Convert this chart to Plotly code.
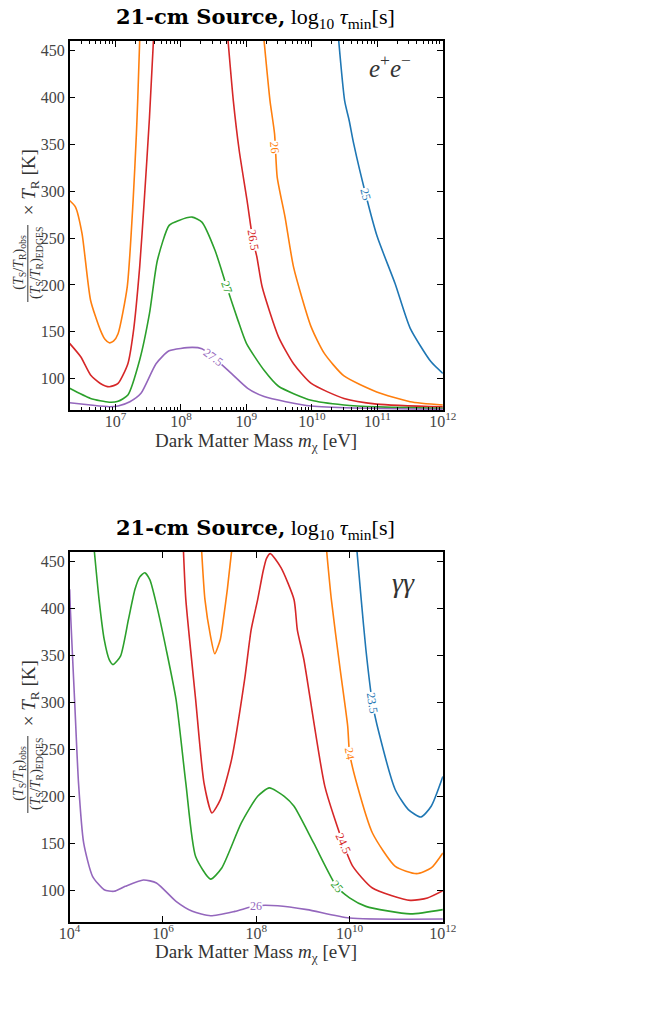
import numpy as np
import plotly.graph_objects as go

# ---------------- data (log10 of mass in eV, temperature in K) ----------------
# e+e- panel
ee_logm_25 = [10.41, 10.50, 10.57, 10.64, 10.82, 11.0, 11.27, 11.50, 11.82, 12.0]
ee_T_25 = [460, 396.5, 375, 350, 297, 251, 201.5, 154, 118, 105.7]

ee_logm_26a = [6.30, 6.39, 6.49, 6.62, 6.77, 6.84, 6.905, 6.97, 7.04, 7.18, 7.27, 7.32, 7.34, 7.37]
ee_T_26a = [290, 283, 254.7, 183.7, 151.8, 142, 138.3, 140, 148, 198, 290, 361, 396.5, 460]
ee_logm_26b = [9.27, 9.36, 9.43, 9.47, 9.59, 9.72, 9.99, 10.19, 10.49, 10.99, 11.50, 12.0]
ee_T_26b = [460, 396.5, 361, 315, 272.3, 219, 155, 127, 103, 86, 75.5, 72]

ee_logm_265a = [6.30, 6.47, 6.62, 6.77, 6.905, 7.04, 7.19, 7.27, 7.37, 7.44, 7.52, 7.58]
ee_T_265a = [137.7, 123.4, 104, 95, 91.5, 95, 116, 148, 219, 290, 378.7, 460]
ee_logm_265b = [8.72, 8.80, 8.89, 9.01, 9.10, 9.16, 9.24, 9.49, 9.72, 9.99, 10.49, 10.99, 12.0]
ee_T_265b = [460, 396.5, 343.3, 290, 247.5, 229.8, 198, 144.7, 116, 95, 79, 73, 70]

ee_logm_27 = [6.30, 6.62, 6.905, 7.04, 7.19, 7.37, 7.52, 7.64, 7.82, 7.97, 8.17, 8.32, 8.52,
              8.70, 8.87, 9.00, 9.27, 9.49, 9.99, 10.49, 11.0, 12.0]
ee_T_27 = [89.8, 79, 75, 76, 82.7, 120, 169.6, 226, 263.5, 268.8, 272.3, 267, 237,
           198, 162.5, 137.7, 109, 92, 77, 72, 70, 68.5]

ee_logm_275 = [6.30, 6.62, 6.905, 7.04, 7.22, 7.39, 7.62, 7.82, 8.17, 8.32, 8.49, 8.77,
               9.02, 9.27, 9.99, 12.0]
ee_T_275 = [74.5, 72, 70.2, 71, 75.5, 84.5, 116, 129.8, 133.4, 132, 123.4, 105.7,
            89.8, 81, 71, 67.5]

# gamma-gamma panel
gg_logm_235 = [10.16, 10.25, 10.35, 10.49, 10.63, 10.98, 11.26, 11.53, 11.75, 12.0]
gg_T_235 = [460, 409, 356, 299.4, 267.5, 207, 185.9, 178, 189.4, 221]

gg_logm_24a = [6.83, 6.90, 7.02, 7.11, 7.23, 7.30, 7.38, 7.47]
gg_T_24a = [460, 409, 370, 351.5, 367, 390, 420, 460]
gg_logm_24b = [9.51, 9.61, 9.79, 9.96, 10.0, 10.17, 10.49, 10.98, 11.44, 11.75, 12.0]
gg_T_24b = [460, 409, 338, 274.5, 246, 210.6, 161, 125.5, 117.8, 123.8, 139.8]

gg_logm_245 = [6.44, 6.49, 6.70, 6.88, 7.05, 7.23, 7.47, 7.75, 7.89, 8.03, 8.15, 8.22, 8.30,
               8.53, 8.81, 8.88, 9.02, 9.47, 9.86, 10.07, 10.49, 11.30, 11.67, 12.0]
gg_T_245 = [460, 409, 303, 214, 182.3, 196.5, 239, 324, 377, 409, 440, 453, 458,
            443, 409, 377, 345.4, 210.6, 150.4, 125.5, 102.5, 89.4, 92, 99.7]

gg_logm_25 = [4.53, 4.63, 4.74, 4.85, 4.93, 5.09, 5.26, 5.40, 5.50, 5.61, 5.72, 5.86, 6.07,
              6.28, 6.49, 6.70, 7.02, 7.26, 7.68, 8.03, 8.28, 8.60, 8.81, 9.23, 9.72,
              10.0, 10.35, 11.30, 12.0]
gg_T_25 = [460, 409, 366.7, 345, 340, 349, 388, 420, 433, 437.6, 430, 404, 356,
           303, 214, 136, 112, 123.8, 171.7, 200, 208.9, 200, 189.4, 150.4, 104.3,
           92, 83, 75, 79.5]

gg_logm_26 = [4.0, 4.015, 4.105, 4.19, 4.30, 4.49, 4.74, 4.95, 5.19, 5.58, 5.86, 6.28,
              6.63, 7.02, 7.54, 8.0, 8.46, 9.09, 10.0, 12.0]
gg_T_26 = [420, 398.6, 302.9, 214, 150.4, 115, 100.7, 99, 104.3, 111, 107.9, 88.3,
           77.7, 73, 77.7, 83.7, 83.7, 79.5, 70.6, 69.5]

BLUE, ORANGE, GREEN, RED, PURPLE = "#1f77b4", "#ff7f0e", "#2ca02c", "#d62728", "#9467bd"
FONT = "Liberation Serif"
W, H = 655, 1015
XL, XR = 61, 449  # plot frame, pixels

fig = go.Figure()


def add_curve(logm, T, color, xa, ya):
    fig.add_trace(go.Scatter(x=[10 ** v for v in logm], y=T, mode="lines",
                             line=dict(color=color, width=1.6, shape="spline", smoothing=0.6),
                             xaxis=xa, yaxis=ya, showlegend=False, hoverinfo="skip",
                             cliponaxis=True))


for lm, T, c in [(ee_logm_25, ee_T_25, BLUE), (ee_logm_26a, ee_T_26a, ORANGE),
                 (ee_logm_26b, ee_T_26b, ORANGE), (ee_logm_265a, ee_T_265a, RED),
                 (ee_logm_265b, ee_T_265b, RED), (ee_logm_27, ee_T_27, GREEN),
                 (ee_logm_275, ee_T_275, PURPLE)]:
    add_curve(lm, T, c, "x", "y")

for lm, T, c in [(gg_logm_235, gg_T_235, BLUE), (gg_logm_24a, gg_T_24a, ORANGE),
                 (gg_logm_24b, gg_T_24b, ORANGE), (gg_logm_245, gg_T_245, RED),
                 (gg_logm_25, gg_T_25, GREEN), (gg_logm_26, gg_T_26, PURPLE)]:
    add_curve(lm, T, c, "x2", "y2")

annotations = []


def clabel(text, lx, ty, angle, color, xr, yr):
    annotations.append(dict(text=text, x=lx, y=ty, xref=xr, yref=yr, showarrow=False,
                            xanchor="center", yanchor="middle",
                            textangle=angle, bgcolor="white", borderpad=0,
                            font=dict(family=FONT, size=12, color=color)))


clabel("25", 10.82, 297, 76, BLUE, "x", "y")
clabel("26", 9.43, 347, 85, ORANGE, "x", "y")
clabel("26.5", 9.10, 247.5, 80, RED, "x", "y")
clabel("27", 8.70, 198, 71, GREEN, "x", "y")
clabel("27.5", 8.49, 123.4, 36, PURPLE, "x", "y")

clabel("23.5", 10.49, 299.4, 81, BLUE, "x2", "y2")
clabel("24", 10.0, 246, 80, ORANGE, "x2", "y2")
clabel("24.5", 9.86, 150.4, 65, RED, "x2", "y2")
clabel("25", 9.72, 104.3, 50, GREEN, "x2", "y2")
clabel("26", 8.0, 83.7, 0, PURPLE, "x2", "y2")


def px(x):
    return x / W


def py(y):
    return 1 - y / H


def text_at(text, x, y, size, color="#333", angle=0):
    annotations.append(dict(text=text, x=px(x), y=py(y), xref="paper", yref="paper",
                            showarrow=False, xanchor="center", yanchor="middle",
                            textangle=angle, font=dict(family=FONT, size=size, color=color)))


shapes = []
TITLE = ("<span style=\"font-family:'DejaVu Serif'; font-size:21px\"><b>21-cm Source,</b></span>"
         " log<sub>10</sub> <i>\u03c4</i><sub>min</sub>[s]")
for off, tag, tx, ty, ts in [(0, "<i>e</i><sup>+</sup><i>e</i><sup>\u2212</sup>", 394, 66, 25),
                             (511, "<i>\u03b3\u03b3</i>", 408, 71, 28)]:
    text_at(TITLE, 254, 18 + off, 22, color="black")
    text_at("Dark Matter Mass <i>m</i><sub>\u03c7</sub> [eV]", 255, 442 + off, 19)
    text_at("(<i>T</i><sub>S</sub>/<i>T</i><sub>R</sub>)<sub>obs</sub>", 8, 262 + off, 14, angle=-90)
    text_at("(<i>T</i><sub>S</sub>/<i>T</i><sub>R</sub>)<sub>EDGES</sub>", 26, 263 + off, 14, angle=-90)
    text_at("\u00d7 <i>T</i><sub>R</sub> [K]", 20, 182 + off, 19, angle=-90)
    text_at(tag, tx, ty + off, ts)
    shapes.append(dict(type="line", xref="paper", yref="paper", x0=px(17.5), x1=px(17.5),
                       y0=py(225 + off), y1=py(302 + off), line=dict(color="#333", width=1)))

axis_common = dict(showline=True, linecolor="black", linewidth=1.6, mirror="ticks",
                   ticks="inside", ticklen=6, tickwidth=1.2, tickcolor="black",
                   showgrid=False, zeroline=False,
                   tickfont=dict(family=FONT, size=16, color="#444"))

minor_top = [k * 10.0 ** d for d in range(6, 12) for k in range(2, 10) if k * 10.0 ** d >= 2e6]

fig.update_layout(
    width=W, height=H, margin=dict(l=0, r=0, t=0, b=0),
    plot_bgcolor="white", paper_bgcolor="white", showlegend=False,
    xaxis=dict(type="log", domain=[px(XL), px(XR)], range=[np.log10(2e6), 12], anchor="y",
               tickvals=[10.0 ** d for d in range(7, 13)],
               ticktext=["10<sup>%d</sup>" % d for d in range(7, 13)],
               minor=dict(ticks="inside", ticklen=3, tickwidth=1, tickcolor="black",
                          tickvals=minor_top, showgrid=False),
               ticklabelstandoff=-4, **axis_common),
    yaxis=dict(domain=[py(410), py(41)], range=[66.7, 460], anchor="x",
               tickvals=list(range(100, 451, 50)), **axis_common),
    xaxis2=dict(type="log", domain=[px(XL), px(XR)], range=[4, 12], anchor="y2",
                tickvals=[10.0 ** d for d in range(4, 13, 2)],
                ticktext=["10<sup>%d</sup>" % d for d in range(4, 13, 2)],
                ticklabelstandoff=-4, **axis_common),
    yaxis2=dict(domain=[py(921.7), py(551.7)], range=[66.7, 460], anchor="x2",
                tickvals=list(range(100, 451, 50)), **axis_common),
    annotations=annotations, shapes=shapes,
)

fig.write_html("out.html",
               post_script="document.body.style.margin='0';document.documentElement.style.overflow='hidden';")
